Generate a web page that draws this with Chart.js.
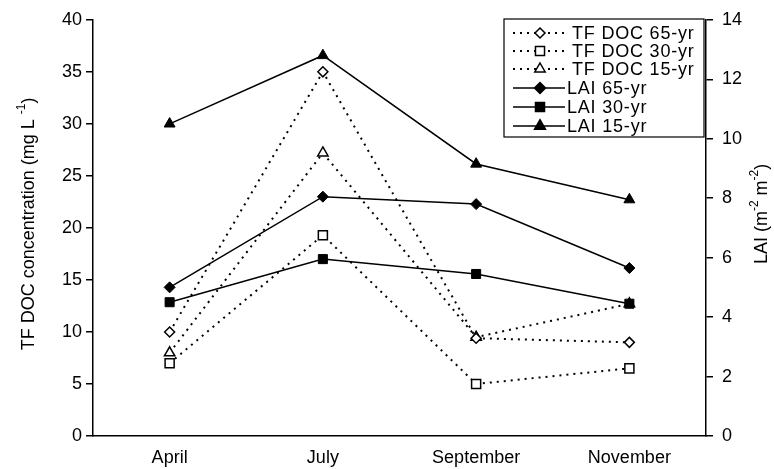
<!DOCTYPE html>
<html>
<head>
<meta charset="utf-8">
<script src="https://cdn.jsdelivr.net/npm/chart.js@4.4.1/dist/chart.umd.min.js"></script>
<style>
  body { margin: 0; background: #fff; }
  #wrap { width: 774px; height: 469px; }
</style>
</head>
<body>
<div id="wrap"><canvas id="c"></canvas></div>
<script>
// data
const months = ['April', 'July', 'September', 'November'];
const docTicks = [0, 5, 10, 15, 20, 25, 30, 35, 40];
const laiTicks = [0, 2, 4, 6, 8, 10, 12, 14];
const doc65 = [10, 35, 9.4, 9];
const doc30 = [7, 19.3, 5, 6.5];
const doc15 = [8, 27.2, 9.5, 12.7];
const lai65 = [5.0, 8.05, 7.8, 5.65];
const lai30 = [4.5, 5.95, 5.45, 4.45];
const lai15 = [10.5, 12.8, 9.15, 7.95];

const FONT = 'Liberation Sans, Arial, sans-serif';

// marker drawing for the legend (same shapes as chart.js uses)
function marker(ctx, style, x, y, r, filled) {
    ctx.beginPath();
    if (style === 'rectRot') {
        ctx.moveTo(x, y - r); ctx.lineTo(x + r, y); ctx.lineTo(x, y + r); ctx.lineTo(x - r, y);
    } else if (style === 'rect') {
        const s = r * Math.SQRT1_2;
        ctx.rect(x - s, y - s, 2 * s, 2 * s);
    } else {
        ctx.moveTo(x, y - r); ctx.lineTo(x + r * 0.866, y + r * 0.5); ctx.lineTo(x - r * 0.866, y + r * 0.5);
    }
    ctx.closePath();
    ctx.fillStyle = filled ? '#000' : '#fff';
    ctx.fill();
    ctx.lineWidth = 1.5;
    ctx.strokeStyle = '#000';
    ctx.stroke();
}

const legendItems = [
    { text: 'TF DOC 65-yr', style: 'rectRot', r: 5, filled: false, dash: true },
    { text: 'TF DOC 30-yr', style: 'rect', r: 6.4, filled: false, dash: true },
    { text: 'TF DOC 15-yr', style: 'triangle', r: 6, filled: false, dash: true },
    { text: 'LAI 65-yr', style: 'rectRot', r: 5.5, filled: true, dash: false },
    { text: 'LAI 30-yr', style: 'rect', r: 6.4, filled: true, dash: false },
    { text: 'LAI 15-yr', style: 'triangle', r: 6.3, filled: true, dash: false }
];

const boxLegend = {
    id: 'boxLegend',
    afterDatasetsDraw(chart) {
        const ctx = chart.ctx;
        ctx.save();
        ctx.fillStyle = '#fff';
        ctx.fillRect(504, 19, 200, 118);
        ctx.strokeStyle = '#000';
        ctx.lineWidth = 1.2;
        ctx.strokeRect(504, 19, 200, 118);
        const rows = [33, 51, 69, 88, 107, 126];
        legendItems.forEach((it, i) => {
            const y = rows[i];
            ctx.beginPath();
            ctx.setLineDash(it.dash ? [2, 5] : []);
            ctx.lineWidth = it.dash ? 2 : 1.5;
            ctx.moveTo(513, y);
            ctx.lineTo(it.dash ? 564 : 565, y);
            ctx.stroke();
            ctx.setLineDash([]);
            marker(ctx, it.style, 540, y, it.r, it.filled);
            ctx.fillStyle = '#000';
            ctx.font = '18px ' + FONT;
            ctx.textBaseline = 'middle';
            ctx.letterSpacing = '0.8px';
            ctx.fillText(it.text, it.dash ? 572 : 567, y + 1);
            ctx.letterSpacing = '0px';
        });
        ctx.restore();
    }
};

// axis titles with superscripts
function rotatedTitle(ctx, parts, cx, cy) {
    ctx.save();
    ctx.translate(cx, cy);
    ctx.rotate(-Math.PI / 2);
    ctx.fillStyle = '#000';
    ctx.textBaseline = 'middle';
    let total = 0;
    parts.forEach(p => {
        ctx.font = (p.sup ? '12px ' : '18px ') + FONT;
        p.w = ctx.measureText(p.t).width;
        total += p.w;
    });
    let x = -total / 2;
    parts.forEach(p => {
        ctx.font = (p.sup ? '12px ' : '18px ') + FONT;
        ctx.fillText(p.t, x, p.sup ? -7 : 0);
        x += p.w;
    });
    ctx.restore();
}

const axisTitles = {
    id: 'axisTitles',
    afterDraw(chart) {
        const a = chart.chartArea;
        const cy = (a.top + a.bottom) / 2;
        rotatedTitle(chart.ctx, [
            { t: 'TF DOC concentration (mg L ' }, { t: '-1', sup: true }, { t: ')' }
        ], 29, cy - 4);
        rotatedTitle(chart.ctx, [
            { t: 'LAI (m' }, { t: '-2', sup: true }, { t: ' m' }, { t: '-2', sup: true }, { t: ')' }
        ], 762, cy - 14);
    }
};

function docSet(label, data, style, r) {
    return {
        label, data, yAxisID: 'y', order: 1,
        borderColor: '#000', borderWidth: 2, borderDash: [2, 5],
        pointStyle: style, pointRadius: r, pointBorderWidth: 1.5,
        pointBackgroundColor: '#fff', pointBorderColor: '#000', tension: 0, fill: false
    };
}
function laiSet(label, data, style, r) {
    return {
        label, data, yAxisID: 'y1', order: 0,
        borderColor: '#000', borderWidth: 1.5,
        pointStyle: style, pointRadius: r, pointBorderWidth: 1,
        pointBackgroundColor: '#000', pointBorderColor: '#000', tension: 0, fill: false
    };
}

const axisFont = { family: FONT, size: 18 };

new Chart(document.getElementById('c'), {
    type: 'line',
    data: {
        labels: months,
        datasets: [
            docSet('TF DOC 65-yr', doc65, 'rectRot', 5),
            docSet('TF DOC 30-yr', doc30, 'rect', 6.4),
            docSet('TF DOC 15-yr', doc15, 'triangle', 6),
            laiSet('LAI 65-yr', lai65, 'rectRot', 5.5),
            laiSet('LAI 30-yr', lai30, 'rect', 6.4),
            laiSet('LAI 15-yr', lai15, 'triangle', 6.3)
        ]
    },
    options: {
        responsive: true,
        maintainAspectRatio: false,
        animation: false,
        layout: { padding: { top: 19, left: 0, right: 0, bottom: 0 }, autoPadding: false },
        plugins: { legend: { display: false }, tooltip: { enabled: false } },
        scales: {
            x: {
                offset: true,
                grid: { display: false },
                border: { color: '#000', width: 1.5 },
                ticks: { color: '#000', font: axisFont, padding: 3, maxRotation: 0 },
                afterFit: s => { s.height = 33; }
            },
            y: {
                position: 'left', min: 0, max: 40,
                afterBuildTicks: s => { s.ticks = docTicks.map(v => ({ value: v })); },
                grid: { drawOnChartArea: false, tickLength: 7, color: '#000', lineWidth: 1.5 },
                border: { color: '#000', width: 1.5 },
                ticks: { color: '#000', font: axisFont, padding: 4 },
                afterFit: s => { s.width = 93; }
            },
            y1: {
                position: 'right', min: 0, max: 14,
                afterBuildTicks: s => { s.ticks = laiTicks.map(v => ({ value: v })); },
                grid: { drawOnChartArea: false, tickLength: 7, color: '#000', lineWidth: 1.5 },
                border: { color: '#000', width: 1.5 },
                ticks: { color: '#000', font: axisFont, padding: 9 },
                afterFit: s => { s.width = 68; }
            }
        }
    },
    plugins: [boxLegend, axisTitles]
});
</script>
</body>
</html>
